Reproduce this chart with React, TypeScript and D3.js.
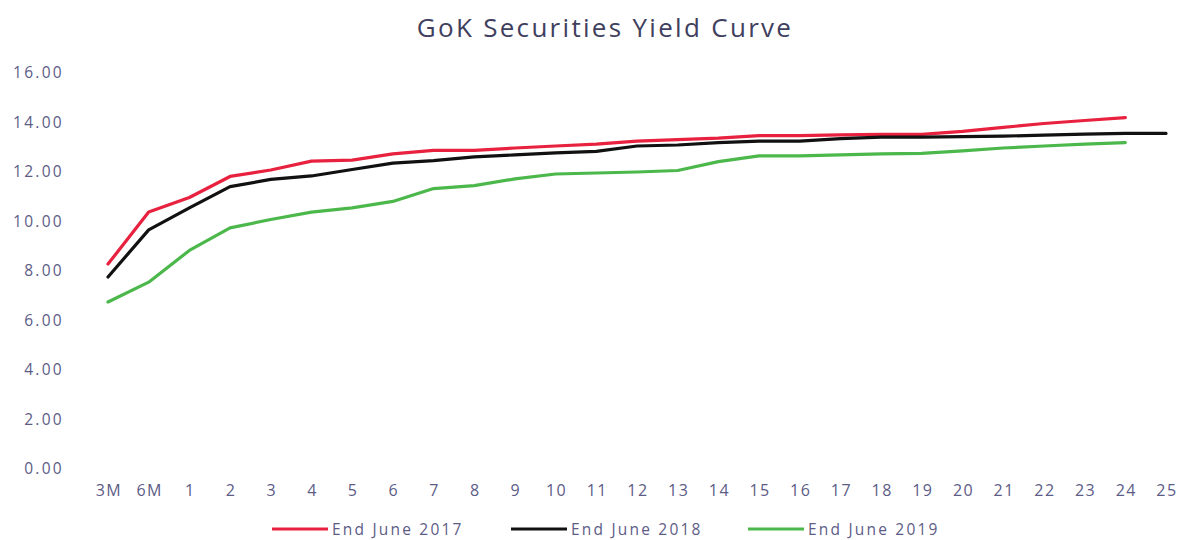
import React from "react";
import * as d3 from "d3";

const categories = ["3M", "6M", "1", "2", "3", "4", "5", "6", "7", "8", "9", "10", "11", "12", "13", "14", "15", "16", "17", "18", "19", "20", "21", "22", "23", "24", "25"];

const june2017 = [8.28, 10.38, 10.97, 11.82, 12.08, 12.44, 12.48, 12.73, 12.87, 12.87, 12.97, 13.05, 13.13, 13.25, 13.31, 13.37, 13.47, 13.47, 13.5, 13.52, 13.52, 13.64, 13.8, 13.96, 14.08, 14.2, null];
const june2018 = [7.76, 9.66, 10.55, 11.41, 11.7, 11.84, 12.1, 12.36, 12.46, 12.61, 12.69, 12.77, 12.83, 13.05, 13.09, 13.19, 13.25, 13.25, 13.35, 13.41, 13.41, 13.43, 13.45, 13.49, 13.53, 13.56, 13.56];
const june2019 = [6.75, 7.55, 8.83, 9.74, 10.08, 10.38, 10.55, 10.81, 11.33, 11.45, 11.72, 11.92, 11.96, 12.0, 12.06, 12.42, 12.65, 12.65, 12.69, 12.73, 12.75, 12.85, 12.97, 13.05, 13.13, 13.19, null];

const yTicks = [0, 2, 4, 6, 8, 10, 12, 14, 16];

const seriesNames = ["End June 2017", "End June 2018", "End June 2019"];
const seriesColors = ["#e8213f", "#111111", "#4cb84c"];

export default function App() {
  const W = 1186;
  const H = 540;
  const x = d3.scalePoint<string>().domain(categories).range([108, 1166]);
  const y = d3.scaleLinear().domain([0, 16]).range([469, 73]);
  const allSeries = [june2017, june2018, june2019];
  const line = d3
    .line<number | null>()
    .defined((d) => d != null)
    .x((_, i) => x(categories[i]) as number)
    .y((d) => y(d as number));

  const font = "'Open Sans', 'Noto Sans', sans-serif";
  const textColor = "#5c5c86";
  const legendX = [272, 511, 748];

  return (
    <svg
      width={W}
      height={H}
      style={{ position: "absolute", left: 0, top: 0, background: "#fff" }}
      fontFamily={font}
    >
      <text x={605} y={37} textAnchor="middle" fontSize={26} fill="#40405e" letterSpacing={2.3}>
        GoK Securities Yield Curve
      </text>
      {yTicks.map((t) => (
        <text key={t} x={64} y={y(t) + 5} textAnchor="end" fontSize={15.5} fill={textColor} letterSpacing={2.3}>
          {t.toFixed(2)}
        </text>
      ))}
      {categories.map((c) => (
        <text key={c} x={(x(c) as number) + 1} y={496} textAnchor="middle" fontSize={16} fill={textColor} letterSpacing={1.5}>
          {c}
        </text>
      ))}
      {allSeries.map((s, i) => (
        <path
          key={i}
          d={line(s) || ""}
          fill="none"
          stroke={seriesColors[i]}
          strokeWidth={3.2}
          strokeLinejoin="round"
          strokeLinecap="round"
        />
      ))}
      {seriesNames.map((n, i) => (
        <g key={n}>
          <line x1={legendX[i]} x2={legendX[i] + 56} y1={529} y2={529} stroke={seriesColors[i]} strokeWidth={3.2} />
          <text x={legendX[i] + 60} y={535} fontSize={15.5} fill={textColor} letterSpacing={2.2}>
            {n}
          </text>
        </g>
      ))}
    </svg>
  );
}
